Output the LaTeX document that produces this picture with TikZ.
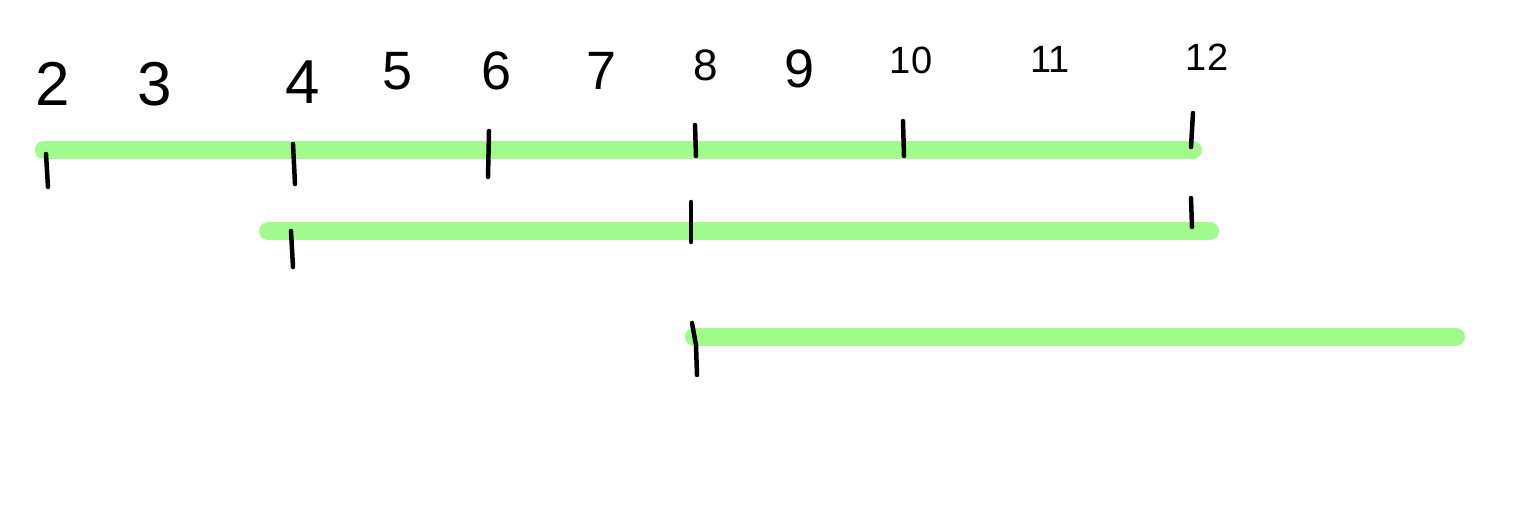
\documentclass[tikz,border=0pt]{standalone}
\usepackage{fontspec}
\setmainfont{Liberation Sans}
\definecolor{bargreen}{HTML}{A0FA8C}
\begin{document}
\begin{tikzpicture}[x=1pt,y=-1pt,
  bar/.style={line width=18pt, line cap=round, draw=bargreen},
  tickmark/.style={line width=4.5pt, line cap=round, draw=black},
  numbig/.style={anchor=base, inner sep=0pt, font=\fontsize{62}{66}\selectfont},
  nummid/.style={anchor=base, inner sep=0pt, font=\fontsize{54}{58}\selectfont},
  numeight/.style={anchor=base, inner sep=0pt, font=\fontsize{44}{48}\selectfont},
  numsmall/.style={anchor=base, inner sep=0pt, font=\fontsize{38}{42}\selectfont}]
\useasboundingbox (0,0) rectangle (1523,512);
% green bars
\draw[bar] (44,150) -- (1193,150);
\draw[bar] (268,231) -- (1210,231);
\draw[bar] (694,337) -- (1456,337);
% numbers
\node[numbig] (n2) at (53,105) {2};
\node[numbig] (n3) at (155,105) {3};
\node[numbig] (n4) at (303,103) {4};
\node[nummid] (n5) at (398,89) {5};
\node[nummid] (n6) at (497,89) {6};
\node[nummid] (n7) at (602,89) {7};
\node[numeight] (n8) at (706,80) {8};
\node[nummid] (n9) at (800,87) {9};
\node[numsmall] (n10) at (911,73) {10};
\node[numsmall] (n11) at (1050,72) {11};
\node[numsmall] (n12) at (1207,70) {12};
% ticks on bar 1
\draw[tickmark] (46,154) -- (48,187);
\draw[tickmark] (293,144) -- (295,184);
\draw[tickmark] (489,131) -- (488,177);
\draw[tickmark] (695,125) -- (696,156);
\draw[tickmark] (903,121) -- (904,156);
\draw[tickmark] (1193,113) -- (1191,147);
% ticks on bar 2
\draw[tickmark] (291,231) -- (293,267);
\draw[tickmark] (691,202) -- (691,242);
\draw[tickmark] (1191,198) -- (1192,227);
% tick on bar 3
\draw[tickmark] (692,323) -- (696,345) -- (697,375);
\end{tikzpicture}
\end{document}
